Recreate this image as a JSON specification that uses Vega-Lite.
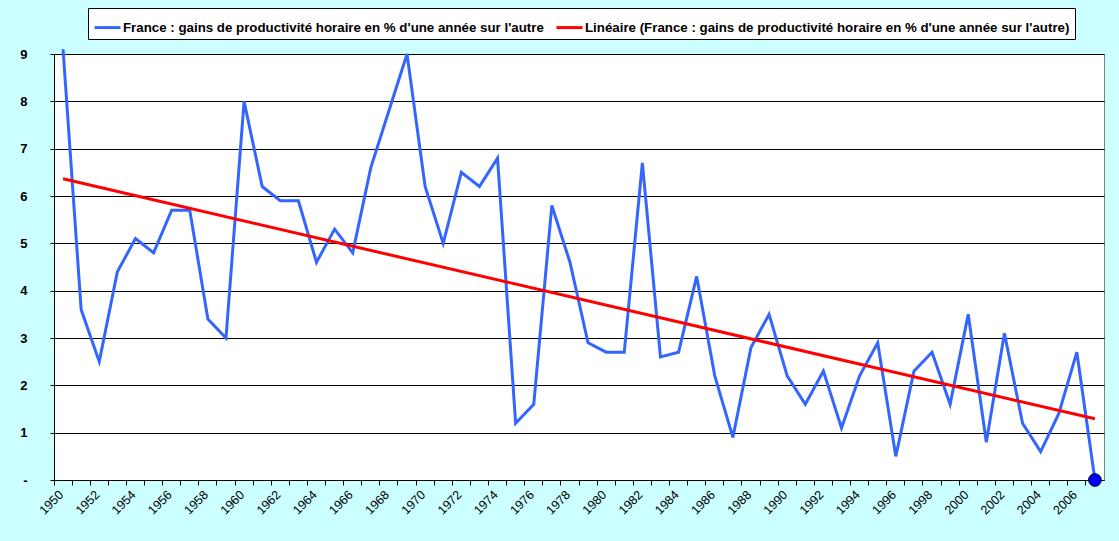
{
  "$schema": "https://vega.github.io/schema/vega-lite/v6.json",
  "width": 1050,
  "height": 426,
  "autosize": {"type": "none"},
  "padding": {"left": 54, "top": 54, "right": 15, "bottom": 61},
  "background": "#CCFFFF",
  "config": {
    "font": "Liberation Sans",
    "view": {"stroke": "#808080", "fill": "#FFFFFF", "strokeWidth": 1}
  },
  "data": {"values": [
    {"year": 1950, "value": 9.1}, {"year": 1951, "value": 3.6}, {"year": 1952, "value": 2.5},
    {"year": 1953, "value": 4.4}, {"year": 1954, "value": 5.1}, {"year": 1955, "value": 4.8},
    {"year": 1956, "value": 5.7}, {"year": 1957, "value": 5.7}, {"year": 1958, "value": 3.4},
    {"year": 1959, "value": 3.0}, {"year": 1960, "value": 8.0}, {"year": 1961, "value": 6.2},
    {"year": 1962, "value": 5.9}, {"year": 1963, "value": 5.9}, {"year": 1964, "value": 4.6},
    {"year": 1965, "value": 5.3}, {"year": 1966, "value": 4.8}, {"year": 1967, "value": 6.6},
    {"year": 1968, "value": 7.8}, {"year": 1969, "value": 9.0}, {"year": 1970, "value": 6.2},
    {"year": 1971, "value": 5.0}, {"year": 1972, "value": 6.5}, {"year": 1973, "value": 6.2},
    {"year": 1974, "value": 6.8}, {"year": 1975, "value": 1.2}, {"year": 1976, "value": 1.6},
    {"year": 1977, "value": 5.8}, {"year": 1978, "value": 4.6}, {"year": 1979, "value": 2.9},
    {"year": 1980, "value": 2.7}, {"year": 1981, "value": 2.7}, {"year": 1982, "value": 6.7},
    {"year": 1983, "value": 2.6}, {"year": 1984, "value": 2.7}, {"year": 1985, "value": 4.3},
    {"year": 1986, "value": 2.2}, {"year": 1987, "value": 0.9}, {"year": 1988, "value": 2.8},
    {"year": 1989, "value": 3.5}, {"year": 1990, "value": 2.2}, {"year": 1991, "value": 1.6},
    {"year": 1992, "value": 2.3}, {"year": 1993, "value": 1.1}, {"year": 1994, "value": 2.2},
    {"year": 1995, "value": 2.9}, {"year": 1996, "value": 0.5}, {"year": 1997, "value": 2.3},
    {"year": 1998, "value": 2.7}, {"year": 1999, "value": 1.6}, {"year": 2000, "value": 3.5},
    {"year": 2001, "value": 0.8}, {"year": 2002, "value": 3.1}, {"year": 2003, "value": 1.2},
    {"year": 2004, "value": 0.6}, {"year": 2005, "value": 1.4}, {"year": 2006, "value": 2.7},
    {"year": 2007, "value": 0.0}
  ]},
  "encoding": {
    "x": {
      "field": "year", "type": "ordinal",
      "scale": {"type": "band", "paddingInner": 0, "paddingOuter": 0},
      "axis": {
        "title": null, "bandPosition": 0, "labelAngle": -45, "labelFontSize": 12.5,
        "labelColor": "#000000", "labelOverlap": false, "labelPadding": 3, "labelOffset": -6,
        "labelExpr": "datum.value % 2 == 0 && datum.value < 2007 ? '' + datum.value : ''",
        "tickSize": 5, "tickColor": "#000000", "domainColor": "#000000", "grid": false
      }
    },
    "y": {
      "field": "value", "type": "quantitative",
      "scale": {"domain": [0, 9], "nice": false},
      "axis": {
        "title": null, "values": [0, 1, 2, 3, 4, 5, 6, 7, 8, 9],
        "labelExpr": "datum.value == 0 ? '-' : datum.label",
        "labelFontWeight": "bold", "labelFontSize": 13, "labelColor": "#000000",
        "labelPadding": 23, "tickSize": 4, "tickColor": "#000000",
        "domainColor": "#000000", "grid": true, "gridColor": "#000000", "gridOpacity": 1
      }
    }
  },
  "layer": [
    {
      "mark": {"type": "line", "strokeWidth": 3},
      "encoding": {
        "color": {
          "datum": "France : gains de productivité horaire en % d'une année sur l'autre",
          "scale": {
            "domain": [
              "France : gains de productivité horaire en % d'une année sur l'autre",
              "Linéaire (France : gains de productivité horaire en % d'une année sur l'autre)"
            ],
            "range": ["#3366FF", "#FF0000"]
          },
          "legend": {
            "title": null, "orient": "none", "legendX": 34, "legendY": -46,
            "direction": "horizontal", "strokeColor": "#000000", "fillColor": "#FFFFFF",
            "padding": 5, "labelFontWeight": "bold", "labelFontSize": 13.3, "labelColor": "#000000",
            "labelLimit": 0, "symbolType": "stroke", "symbolStrokeWidth": 3, "symbolSize": 676,
            "columnPadding": 6, "labelOffset": 1
          }
        }
      }
    },
    {
      "transform": [{"regression": "value", "on": "year", "method": "linear"}],
      "mark": {"type": "line", "strokeWidth": 3},
      "encoding": {
        "color": {"datum": "Linéaire (France : gains de productivité horaire en % d'une année sur l'autre)"}
      }
    },
    {
      "transform": [{"filter": "datum.year == 2007"}],
      "mark": {"type": "point", "filled": true, "fill": "#0000FF", "stroke": "#000000", "strokeWidth": 1, "size": 160, "opacity": 1}
    }
  ]
}
